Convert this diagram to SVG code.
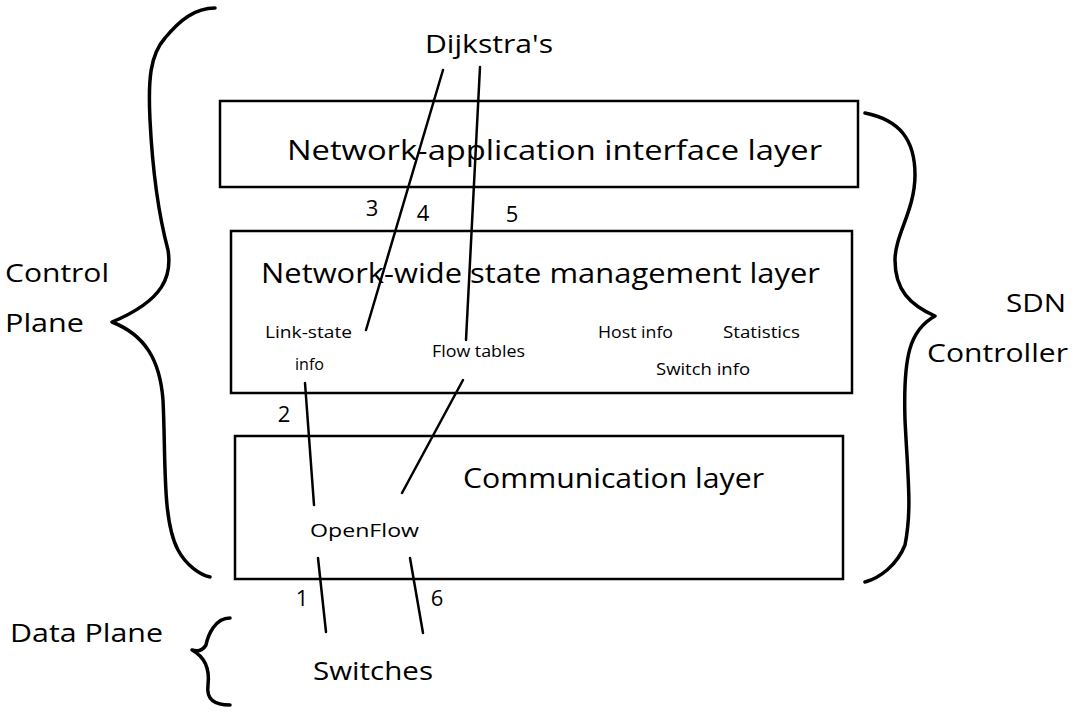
<svg xmlns="http://www.w3.org/2000/svg" width="1080" height="720" viewBox="0 0 1080 720">
<style>
.box{fill:#fff;stroke:#000;stroke-width:2.5}
.br{fill:none;stroke:#000;stroke-width:3.5;stroke-linecap:round;stroke-linejoin:round}
.ln{stroke:#000;stroke-width:2.5;stroke-linecap:round}
text{font-family:"Open Sans","Liberation Sans",sans-serif;fill:#000}
.big{font-size:27px}
.med{font-size:25px}
.sm{font-size:16px}
.num{font-size:22px}
</style>
<rect width="1080" height="720" fill="#fff"/>
<g id="layer-app"><rect class="box" x="220" y="101" width="638" height="86"/><text class="big" x="287" y="160" textLength="535" lengthAdjust="spacingAndGlyphs">Network-application interface layer</text></g>
<g id="layer-state"><rect class="box" x="231" y="231" width="621" height="162"/><text class="big" x="261" y="283" textLength="559" lengthAdjust="spacingAndGlyphs">Network-wide state management layer</text>
<text class="sm" x="265" y="338" textLength="87" lengthAdjust="spacingAndGlyphs">Link-state</text><text class="sm" x="295" y="370" textLength="29" lengthAdjust="spacingAndGlyphs">info</text>
<text class="sm" x="432" y="357" textLength="93" lengthAdjust="spacingAndGlyphs">Flow tables</text>
<text class="sm" x="598" y="338" textLength="75" lengthAdjust="spacingAndGlyphs">Host info</text>
<text class="sm" x="723" y="338" textLength="77" lengthAdjust="spacingAndGlyphs">Statistics</text>
<text class="sm" x="656" y="375" textLength="94" lengthAdjust="spacingAndGlyphs">Switch info</text></g>
<g id="layer-comm"><rect class="box" x="235" y="436" width="608" height="143"/><text class="big" x="463" y="488" textLength="301" lengthAdjust="spacingAndGlyphs">Communication layer</text>
<text x="310" y="537" font-size="19" textLength="109" lengthAdjust="spacingAndGlyphs">OpenFlow</text></g>
<g id="dijkstra"><text class="med" x="425" y="53" textLength="128" lengthAdjust="spacingAndGlyphs">Dijkstra's</text></g>
<g id="switches"><text class="med" x="313" y="680" textLength="120" lengthAdjust="spacingAndGlyphs">Switches</text></g>
<g id="labels">
<text class="med" x="5" y="282" textLength="104" lengthAdjust="spacingAndGlyphs">Control</text><text class="med" x="5" y="332" textLength="79" lengthAdjust="spacingAndGlyphs">Plane</text>
<text class="med" x="1006" y="312" textLength="60" lengthAdjust="spacingAndGlyphs">SDN</text><text class="med" x="927" y="362" textLength="141" lengthAdjust="spacingAndGlyphs">Controller</text>
<text class="med" x="10" y="642" textLength="153" lengthAdjust="spacingAndGlyphs">Data Plane</text>
</g>
<g id="braces">
<path class="br" d="M215,8 C195,8 180,20 165,38 C150,55 148,80 150,120 C153,180 160,220 168,250 C172,275 165,300 112,322 C145,335 160,360 163,400 C166,460 162,520 178,550 C186,565 200,575 210,577"/>
<path class="br" d="M865,113 C900,120 915,140 915,175 C915,210 895,235 895,260 C895,290 910,305 935,316 C910,330 903,355 905,420 C908,480 912,510 905,545 C897,565 880,578 865,582"/>
<path class="br" d="M230,618 C215,618 208,635 206,645 C203,650 198,652 192,650 C205,657 210,668 208,685 C206,700 215,705 230,705"/>
</g>
<g id="connectors">
<line class="ln" x1="443" y1="70" x2="366" y2="330"/>
<line class="ln" x1="480" y1="67" x2="466" y2="340"/>
<line class="ln" x1="305" y1="383" x2="314" y2="505"/>
<line class="ln" x1="463" y1="380" x2="402" y2="493"/>
<line class="ln" x1="318" y1="558" x2="326" y2="632"/>
<line class="ln" x1="410" y1="558" x2="423" y2="633"/>
<text class="num" x="372" y="216" text-anchor="middle">3</text>
<text class="num" x="423" y="221" text-anchor="middle">4</text>
<text class="num" x="512" y="222" text-anchor="middle">5</text>
<text class="num" x="284" y="422" text-anchor="middle">2</text>
<text class="num" x="302" y="606" text-anchor="middle">1</text>
<text class="num" x="437" y="606" text-anchor="middle">6</text>
</g>
</svg>
